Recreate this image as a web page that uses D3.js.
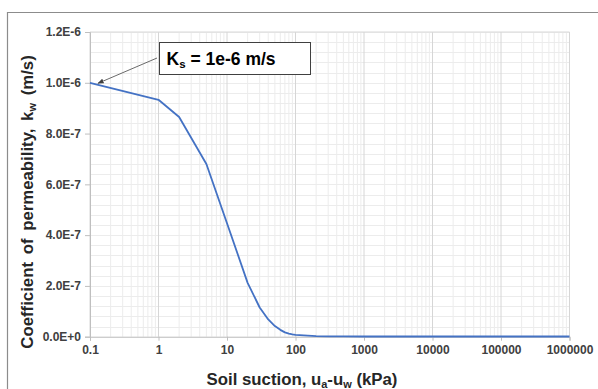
<!DOCTYPE html>
<html>
<head>
<meta charset="utf-8">
<script src="https://cdn.jsdelivr.net/npm/d3@7"></script>
<style>
  body { margin: 0; background: #fff; }
  svg { display: block; font-family: "Liberation Sans", Arial, sans-serif; }
</style>
</head>
<body>
<svg id="chart" width="598" height="389"></svg>
<script>
// ---- data ----
const suction = [0.1, 1, 2, 5, 10, 20, 30, 40, 50, 60, 70, 80, 90, 100, 200, 300, 500, 1000, 10000, 100000, 1000000];
const kw = [1.0e-6, 0.933e-6, 0.865e-6, 0.68e-6, 0.447e-6, 0.212e-6, 0.115e-6, 0.068e-6, 0.042e-6, 0.027e-6, 0.017e-6, 0.012e-6, 0.0092e-6, 0.007e-6, 0.0025e-6, 0.0015e-6, 0.001e-6, 0.0008e-6, 0.0007e-6, 0.0007e-6, 0.0008e-6];
const xTicks = [0.1, 1, 10, 100, 1000, 10000, 100000, 1000000];
const xTickLabels = ["0.1", "1", "10", "100", "1000", "10000", "100000", "1000000"];
const yTicks = [0, 2e-7, 4e-7, 6e-7, 8e-7, 1e-6, 1.2e-6];
const yTickLabels = ["0.0E+0", "2.0E-7", "4.0E-7", "6.0E-7", "8.0E-7", "1.0E-6", "1.2E-6"];
const ksLabel = "1e-6 m/s";

// ---- layout ----
const svg = d3.select("#chart");
const x = d3.scaleLog().domain([0.1, 1e6]).range([90, 569.5]);
const y = d3.scaleLinear().domain([0, 1.2e-6]).range([336.7, 32]);

svg.append("rect").attr("width", 598).attr("height", 389).attr("fill", "#fff");

// outer border (partial, as in reference)
svg.append("path")
  .attr("d", "M7.5,389 V12.5 H598")
  .attr("fill", "none").attr("stroke", "#8c8c8c").attr("stroke-width", 1.2);

const grid = svg.append("g");
// horizontal minor grid every 0.04e-6
const hLines = d3.range(0, 31).map(i => i * 0.04e-6);
grid.selectAll(".hg").data(hLines).join("line")
  .attr("x1", x(0.1)).attr("x2", x(1e6))
  .attr("y1", d => Math.round(y(d)) + 0.5).attr("y2", d => Math.round(y(d)) + 0.5)
  .attr("stroke", "#ececec").attr("stroke-width", 1);
// vertical minor grid
const vMinor = [];
for (let e = -1; e < 6; e++) for (let m = 2; m <= 9; m++) vMinor.push(m * Math.pow(10, e));
grid.selectAll(".vg").data(vMinor).join("line")
  .attr("x1", d => x(d)).attr("x2", d => x(d))
  .attr("y1", y(1.2e-6)).attr("y2", y(0))
  .attr("stroke", "#ececec").attr("stroke-width", 1);
// vertical major grid
grid.selectAll(".vM").data(xTicks).join("line")
  .attr("x1", d => x(d)).attr("x2", d => x(d))
  .attr("y1", y(1.2e-6)).attr("y2", y(0))
  .attr("stroke", "#d6d6d6").attr("stroke-width", 1);
// top line
grid.append("line").attr("x1", x(0.1)).attr("x2", x(1e6))
  .attr("y1", y(1.2e-6)).attr("y2", y(1.2e-6))
  .attr("stroke", "#d9d9d9");

// axes
const xAxis = d3.axisBottom(x).tickValues(xTicks)
  .tickFormat((d, i) => xTickLabels[i]).tickSize(4).tickPadding(5);
const gx = svg.append("g").attr("transform", `translate(0,${y(0)})`).call(xAxis);
gx.select(".domain").attr("stroke", "#bfbfbf");
gx.selectAll(".tick line").attr("stroke", "#bfbfbf");
gx.selectAll("text").attr("font-size", 12).attr("font-weight", "bold")
  .attr("fill", "#404040").attr("font-family", "Liberation Sans, Arial, sans-serif");

const yAxis = d3.axisLeft(y).tickValues(yTicks)
  .tickFormat((d, i) => yTickLabels[i]).tickSize(5).tickPadding(4);
const gy = svg.append("g").attr("transform", `translate(${x(0.1)},0)`).call(yAxis);
gy.select(".domain").attr("stroke", "#bfbfbf");
gy.selectAll(".tick line").attr("stroke", "#bfbfbf");
gy.selectAll("text").attr("font-size", 12).attr("font-weight", "bold")
  .attr("fill", "#404040").attr("font-family", "Liberation Sans, Arial, sans-serif");

// curve
const line = d3.line().x((d, i) => x(suction[i])).y(d => y(d));
svg.append("path").datum(kw)
  .attr("d", line)
  .attr("fill", "none").attr("stroke", "#4472C4").attr("stroke-width", 1.8)
  .attr("stroke-linejoin", "round");

// axis titles
const xt = svg.append("text")
  .attr("x", 302).attr("y", 385).attr("text-anchor", "middle")
  .attr("font-size", 16.8).attr("font-weight", "bold").attr("fill", "#262626");
xt.append("tspan").text("Soil suction, u");
xt.append("tspan").attr("font-size", 11).attr("dy", 3).text("a");
xt.append("tspan").attr("dy", -3).text("-u");
xt.append("tspan").attr("font-size", 11).attr("dy", 3).text("w");
xt.append("tspan").attr("dy", -3).text(" (kPa)");

const yt = svg.append("text")
  .attr("transform", "translate(33,202) rotate(-90)")
  .attr("text-anchor", "middle")
  .attr("font-size", 16.8).attr("font-weight", "bold").attr("fill", "#262626")
  .attr("word-spacing", 3);
yt.append("tspan").text("Coefficient of permeability, k");
yt.append("tspan").attr("font-size", 11).attr("dy", 3).text("w");
yt.append("tspan").attr("dy", -3).text(" (m/s)");

// annotation
const defs = svg.append("defs");
defs.append("marker").attr("id", "arr").attr("viewBox", "0 0 10 10")
  .attr("refX", 9).attr("refY", 5).attr("markerWidth", 7).attr("markerHeight", 7)
  .attr("orient", "auto")
  .append("path").attr("d", "M0,1 L10,5 L0,9 Z").attr("fill", "#404040");
svg.append("line")
  .attr("x1", 157).attr("y1", 58).attr("x2", x(0.1) + 8).attr("y2", y(1e-6) + 0.5)
  .attr("stroke", "#595959").attr("stroke-width", 0.9).attr("marker-end", "url(#arr)");
svg.append("rect").attr("x", 159.5).attr("y", 42.5).attr("width", 151).attr("height", 32)
  .attr("fill", "#fff").attr("stroke", "#404040").attr("stroke-width", 1);
const kt = svg.append("text").attr("x", 166.5).attr("y", 65)
  .attr("font-size", 17.5).attr("font-weight", "bold").attr("fill", "#000");
kt.append("tspan").text("K");
kt.append("tspan").attr("font-size", 11.5).attr("dy", 3).text("s");
kt.append("tspan").attr("dy", -3).text(" = " + ksLabel);
</script>
</body>
</html>
